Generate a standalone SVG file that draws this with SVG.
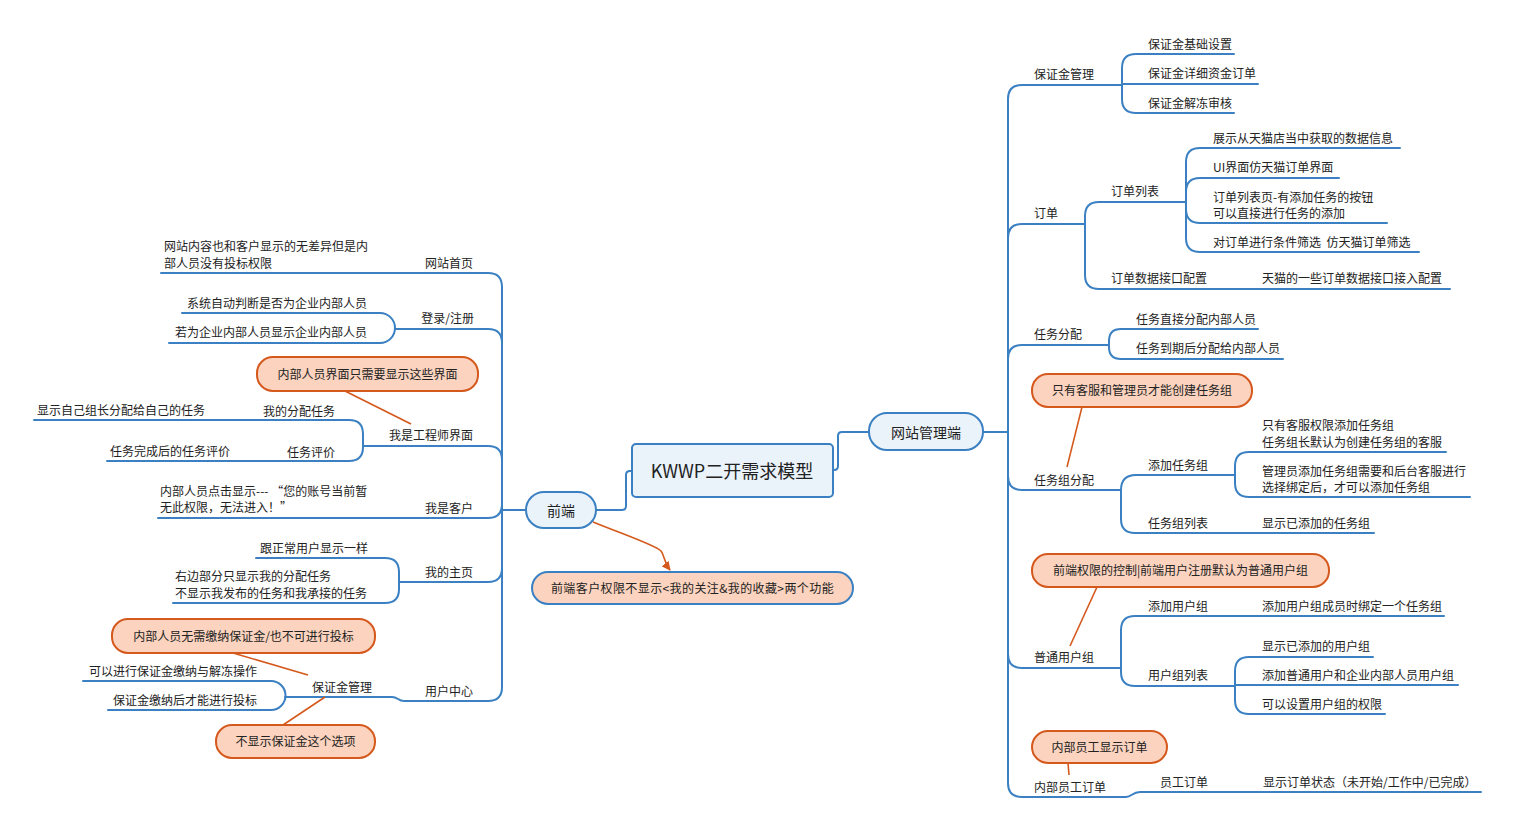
<svg xmlns="http://www.w3.org/2000/svg" width="1520" height="837" viewBox="0 0 1520 837">
<defs>
<style>
text{font-family:"Noto Sans CJK SC","Microsoft YaHei","Noto Sans",sans-serif;font-size:12px;fill:#222;white-space:pre;transform:translateY(1px)}
.e{text-anchor:end}
.m{text-anchor:middle}
.ln{fill:none;stroke:#3A80C2;stroke-width:2;stroke-linecap:round;stroke-linejoin:round}
.ol{fill:none;stroke:#D5581C;stroke-width:1.6}
.call{fill:#FBD3BE;stroke:#D5581C;stroke-width:2}
.bn{fill:#EAF2FA;stroke:#3A80C2;stroke-width:2}
</style>
<marker id="ah" viewBox="0 0 10 10" refX="9" refY="5" markerWidth="9" markerHeight="9" markerUnits="userSpaceOnUse" orient="auto">
<path d="M0,0 L10,5 L0,10 Z" fill="#D5581C"/>
</marker>
</defs>
<rect width="1520" height="837" fill="#fff"/>

<g id="connectors">
<path class="ln" d="M596,510 L622,510 Q626,510 626,506 L626,475 Q626,471 630,471 L632,471"/>
<path class="ln" d="M833,470 L834,470 Q838,470 838,466 L838,436 Q838,432 842,432 L869,432"/>
<path class="ln" d="M983,432 L1008,432"/>
<path class="ln" d="M526,510 L502,510"/>
<path class="ln" d="M1022,85 Q1008,85 1008,99 L1008,783 Q1008,797 1022,797 L1126,797 C1132,797 1132,792 1140,792 L1481,792"/>
<path class="ln" d="M1022,85 L1122,85"/>
<path class="ln" d="M1234,54 L1136,54 Q1122,54 1122,68 L1122,99 Q1122,113 1136,113 L1234,113"/>
<path class="ln" d="M1122,84 L1258,84"/>
<path class="ln" d="M1008,238 Q1008,224 1022,224 L1085,224"/>
<path class="ln" d="M1186,202 L1099,202 Q1085,202 1085,216 L1085,275 Q1085,289 1099,289 L1450,289"/>
<path class="ln" d="M1400,148 L1200,148 Q1186,148 1186,162 L1186,238 Q1186,252 1200,252 L1419,252"/>
<path class="ln" d="M1186,192 Q1186,178 1200,178 L1339,178"/>
<path class="ln" d="M1186,209 Q1186,223 1200,223 L1387,223"/>
<path class="ln" d="M1008,359 Q1008,345 1022,345 L1109,345"/>
<path class="ln" d="M1258,329 L1121,329 Q1109,329 1109,341 L1109,347 Q1109,359 1121,359 L1283,359"/>
<path class="ln" d="M1008,476 Q1008,490 1022,490 L1121,490"/>
<path class="ln" d="M1235,475 L1136,475 Q1121,475 1121,490 L1121,519 Q1121,533 1135,533 L1374,533"/>
<path class="ln" d="M1446,452 L1249,452 Q1235,452 1235,466 L1235,483 Q1235,497 1249,497 L1470,497"/>
<path class="ln" d="M1008,654 Q1008,668 1022,668 L1121,668"/>
<path class="ln" d="M1444,616 L1135,616 Q1121,616 1121,630 L1121,672 Q1121,686 1135,686 L1235,686"/>
<path class="ln" d="M1373,657 L1249,657 Q1235,657 1235,671 L1235,700 Q1235,714 1249,714 L1385,714"/>
<path class="ln" d="M1235,685 L1458,685"/>
<path class="ln" d="M161,273 L488,273 Q502,273 502,287 L502,687 Q502,701 488,701 L404,701 C398,701 398,697 392,697 L285,697"/>
<path class="ln" d="M502,343 Q502,329 488,329 L395,329"/>
<path class="ln" d="M182,313 L380,313 A15,15 0 0 1 380,343 L169,343"/>
<path class="ln" d="M502,460 Q502,446 488,446 L363,446"/>
<path class="ln" d="M34,420 L349,420 Q363,420 363,434 L363,447 Q363,461 349,461 L107,461"/>
<path class="ln" d="M502,504 Q502,518 488,518 L158,518"/>
<path class="ln" d="M502,568 Q502,582 488,582 L399,582"/>
<path class="ln" d="M256,558 L385,558 Q399,558 399,572 L399,589 Q399,603 385,603 L173,603"/>
<path class="ln" d="M83,681 L271,681 A14.5,14.5 0 0 1 271,710 L108,710"/>
<path class="ol" d="M345,391 L411,424"/>
<path class="ol" d="M233,653 L308,675"/>
<path class="ol" d="M283,725 L325,697"/>
<path class="ol" d="M1082,407 L1067,467"/>
<path class="ol" d="M1097,587 L1070,646"/>
<path class="ol" d="M1068,763 L1069,775"/>
<path class="ol" d="M593,522 C625,535 655,545 661,551 C665,556 663,561 670,570" marker-end="url(#ah)"/>
</g>

<g id="center"><rect class="bn" x="632" y="444" width="201" height="53" rx="4"/><text class="m" x="732" y="477" style="font-size:18px">KWWP二开需求模型</text></g>
<g id="n-qianduan"><rect class="bn" x="526" y="492" width="70" height="36" rx="18"/><text class="m" x="561" y="515" style="font-size:14px">前端</text></g>
<g id="n-admin"><rect class="bn" x="869" y="413" width="114" height="37" rx="18"/><text class="m" x="926" y="437" style="font-size:14px">网站管理端</text></g>
<g id="n-front-note"><rect class="call" x="532" y="572" width="321" height="32" rx="16" style="stroke:#3A80C2"/><text class="m" x="692.5" y="592" style="letter-spacing:0.4px">前端客户权限不显示&lt;我的关注&amp;我的收藏&gt;两个功能</text></g>

<g id="r-bzj"><text x="1034" y="78">保证金管理</text></g>
<g id="r-bzj1"><text x="1148" y="48">保证金基础设置</text></g>
<g id="r-bzj2"><text x="1148" y="77">保证金详细资金订单</text></g>
<g id="r-bzj3"><text x="1148" y="107">保证金解冻审核</text></g>
<g id="r-dd"><text x="1034" y="217">订单</text></g>
<g id="r-ddlb"><text x="1111" y="195">订单列表</text></g>
<g id="r-ddlb1"><text x="1213" y="142">展示从天猫店当中获取的数据信息</text></g>
<g id="r-ddlb2"><text x="1213" y="171">UI界面仿天猫订单界面</text></g>
<g id="r-ddlb3"><text x="1213" y="201">订单列表页-有添加任务的按钮</text><text x="1213" y="217">可以直接进行任务的添加</text></g>
<g id="r-ddlb4"><text x="1213" y="246">对订单进行条件筛选  仿天猫订单筛选</text></g>
<g id="r-ddjk"><text x="1111" y="282">订单数据接口配置</text></g>
<g id="r-ddjk1"><text x="1262" y="282">天猫的一些订单数据接口接入配置</text></g>
<g id="r-rwfp"><text x="1034" y="338">任务分配</text></g>
<g id="r-rwfp1"><text x="1136" y="323">任务直接分配内部人员</text></g>
<g id="r-rwfp2"><text x="1136" y="352">任务到期后分配给内部人员</text></g>
<g id="r-note1"><rect class="call" x="1032" y="374" width="220" height="33" rx="16"/><text class="m" x="1142" y="394">只有客服和管理员才能创建任务组</text></g>
<g id="r-rwz"><text x="1034" y="484">任务组分配</text></g>
<g id="r-tjrwz"><text x="1148" y="469">添加任务组</text></g>
<g id="r-tjrwz1"><text x="1262" y="429">只有客服权限添加任务组</text><text x="1262" y="446">任务组长默认为创建任务组的客服</text></g>
<g id="r-tjrwz2"><text x="1262" y="475">管理员添加任务组需要和后台客服进行</text><text x="1262" y="491">选择绑定后，才可以添加任务组</text></g>
<g id="r-rwzlb"><text x="1148" y="527">任务组列表</text></g>
<g id="r-rwzlb1"><text x="1262" y="527">显示已添加的任务组</text></g>
<g id="r-note2"><rect class="call" x="1032" y="554" width="297" height="33" rx="16"/><text class="m" x="1180.5" y="574">前端权限的控制|前端用户注册默认为普通用户组</text></g>
<g id="r-pt"><text x="1034" y="661">普通用户组</text></g>
<g id="r-tjyh"><text x="1148" y="610">添加用户组</text></g>
<g id="r-tjyh1"><text x="1262" y="610">添加用户组成员时绑定一个任务组</text></g>
<g id="r-yhlb"><text x="1148" y="679">用户组列表</text></g>
<g id="r-yhlb1"><text x="1262" y="650">显示已添加的用户组</text></g>
<g id="r-yhlb2"><text x="1262" y="679">添加普通用户和企业内部人员用户组</text></g>
<g id="r-yhlb3"><text x="1262" y="708">可以设置用户组的权限</text></g>
<g id="r-note3"><rect class="call" x="1032" y="731" width="135" height="32" rx="16"/><text class="m" x="1099.5" y="751">内部员工显示订单</text></g>
<g id="r-nbdd"><text x="1034" y="791">内部员工订单</text></g>
<g id="r-ygdd"><text x="1160" y="786">员工订单</text></g>
<g id="r-ygdd1"><text x="1263" y="786">显示订单状态（未开始/工作中/已完成）</text></g>

<g id="l-home"><text class="e" x="473" y="267">网站首页</text></g>
<g id="l-home1"><text x="164" y="250">网站内容也和客户显示的无差异但是内</text><text x="164" y="267">部人员没有投标权限</text></g>
<g id="l-login"><text class="e" x="474" y="322">登录/注册</text></g>
<g id="l-login1"><text class="e" x="367" y="307">系统自动判断是否为企业内部人员</text></g>
<g id="l-login2"><text class="e" x="367" y="336">若为企业内部人员显示企业内部人员</text></g>
<g id="l-note1"><rect class="call" x="257" y="357" width="221" height="34" rx="16"/><text class="m" x="367.5" y="378">内部人员界面只需要显示这些界面</text></g>
<g id="l-eng"><text class="e" x="473" y="439">我是工程师界面</text></g>
<g id="l-eng1"><text class="e" x="335" y="415">我的分配任务</text></g>
<g id="l-eng1a"><text x="37" y="414">显示自己组长分配给自己的任务</text></g>
<g id="l-eng2"><text class="e" x="335" y="456">任务评价</text></g>
<g id="l-eng2a"><text x="110" y="455">任务完成后的任务评价</text></g>
<g id="l-cust"><text class="e" x="473" y="512">我是客户</text></g>
<g id="l-cust1"><text x="160" y="495">内部人员点击显示--- “您的账号当前暂</text><text x="160" y="511">无此权限，无法进入！”</text></g>
<g id="l-my"><text class="e" x="473" y="576">我的主页</text></g>
<g id="l-my1"><text class="e" x="368" y="552">跟正常用户显示一样</text></g>
<g id="l-my2"><text x="175" y="580">右边部分只显示我的分配任务</text><text x="175" y="597">不显示我发布的任务和我承接的任务</text></g>
<g id="l-note2"><rect class="call" x="112" y="619" width="263" height="34" rx="16"/><text class="m" x="243.5" y="640">内部人员无需缴纳保证金/也不可进行投标</text></g>
<g id="l-uc"><text class="e" x="473" y="695">用户中心</text></g>
<g id="l-bzj"><text class="e" x="372" y="691">保证金管理</text></g>
<g id="l-bzj1"><text class="e" x="257" y="675">可以进行保证金缴纳与解冻操作</text></g>
<g id="l-bzj2"><text class="e" x="257" y="704">保证金缴纳后才能进行投标</text></g>
<g id="l-note3"><rect class="call" x="216" y="725" width="159" height="33" rx="16"/><text class="m" x="295.5" y="745">不显示保证金这个选项</text></g>
</svg>
